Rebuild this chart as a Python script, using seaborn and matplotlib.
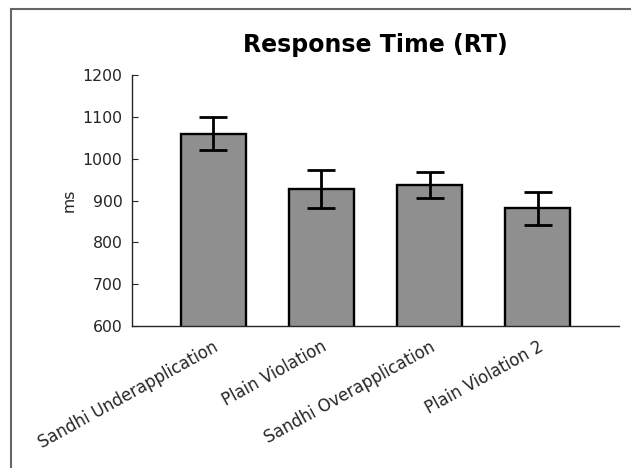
import matplotlib
matplotlib.use("Agg")
import matplotlib.pyplot as plt
from matplotlib.patches import Rectangle
from matplotlib.transforms import ScaledTranslation
import seaborn as sns
import pandas as pd

# Mean response times and their error margins per condition
conditions = ["Sandhi Underapplication", "Plain Violation",
              "Sandhi Overapplication", "Plain Violation 2"]
mean_rt = [1060, 927, 937, 881]
err_rt = [39, 45, 32, 39]
y_ticks = [600, 700, 800, 900, 1000, 1100, 1200]

df = pd.DataFrame({"condition": conditions, "rt": mean_rt})

sns.set_theme(style="white")
plt.rcParams["font.family"] = ["DejaVu Sans"]

fig = plt.figure(figsize=(6.31, 4.68), dpi=100)
ax = fig.add_axes([0.2092, 0.3034, 0.7718, 0.5363])

sns.barplot(data=df, x="condition", y="rt", color="#8f8f8f", saturation=1,
            width=0.6, edgecolor="black", linewidth=1.7, errorbar=None, ax=ax)
ax.errorbar(range(len(conditions)), mean_rt, yerr=err_rt, fmt="none",
            ecolor="black", elinewidth=2.0, capsize=10, capthick=2.0, zorder=5)

ax.set_ylim(600, 1200)
ax.set_xlim(-0.75, 3.75)
ax.set_yticks(y_ticks)
ax.set_xlabel("")
ax.set_ylabel("ms", fontsize=11.3, color="#262626", labelpad=4)
ax.set_title("Response Time (RT)", fontsize=17, fontweight="bold",
             color="black", pad=16.5)

ax.tick_params(axis="y", direction="in", length=4, width=0.8,
               labelsize=11.3, labelcolor="#262626", color="#262626", pad=7,
               left=True)
ax.tick_params(axis="x", length=0, labelsize=11.9, labelcolor="#262626", pad=14)
shift = ScaledTranslation(4 / 100, 0, fig.dpi_scale_trans)
for lbl in ax.get_xticklabels():
    lbl.set_rotation(29)
    lbl.set_ha("right")
    lbl.set_va("center")
    lbl.set_rotation_mode("anchor")
    lbl.set_transform(lbl.get_transform() + shift)

for side in ["top", "right"]:
    ax.spines[side].set_visible(False)
for side in ["left", "bottom"]:
    ax.spines[side].set_color("#262626")
    ax.spines[side].set_linewidth(1.0)

# Grey outer frame around the figure
fig.patches.append(Rectangle((10.5 / 631, -0.05), 1.1, 1 - 9 / 468 + 0.05,
                             transform=fig.transFigure, fill=False,
                             edgecolor="#666666", linewidth=1.5,
                             clip_on=False))

fig.savefig("out.png", dpi=100)
